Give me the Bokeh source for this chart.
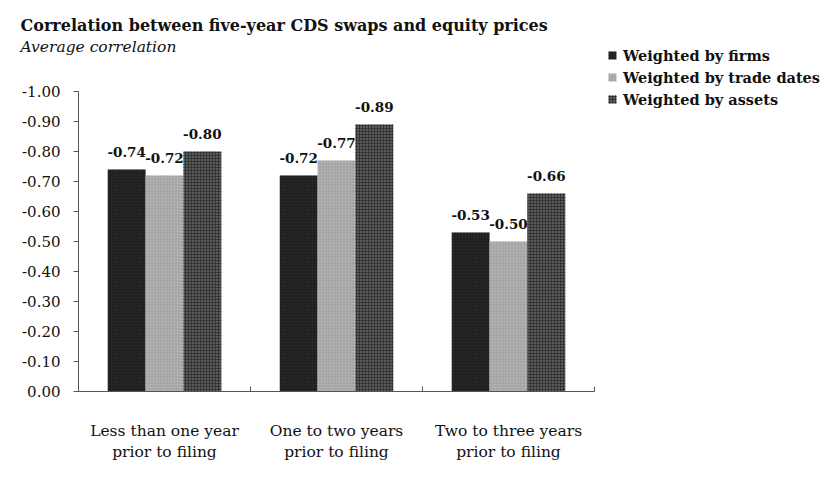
from bokeh.plotting import figure
from bokeh.models import (Range1d, FixedTicker, NumeralTickFormatter, Title,
                          Legend, LegendItem, ColumnDataSource)
from bokeh.core.properties import value
from bokeh.embed import file_html
from bokeh.resources import INLINE

# ---- data ----
categories = ["Less than one year\nprior to filing",
              "One to two years\nprior to filing",
              "Two to three years\nprior to filing"]
series_names = ["Weighted by firms", "Weighted by trade dates", "Weighted by assets"]
firms = [-0.74, -0.72, -0.53]
trade_dates = [-0.72, -0.77, -0.50]
assets = [-0.80, -0.89, -0.66]
y_ticks = [0.0, -0.1, -0.2, -0.3, -0.4, -0.5, -0.6, -0.7, -0.8, -0.9, -1.0]

title_text = "Correlation between five-year CDS swaps and equity prices"
subtitle_text = "Average correlation"

FONT = "DejaVu Serif"
colors = ["#262626", "#b0b0b0", "#5a5a5a"]
hatch_colors = ["#0d0d0d", "#888888", "#2a2a2a"]
hatches = [".", ".", "+"]
bw = 0.22

p = figure(frame_width=516, frame_height=300, output_backend="svg", toolbar_location=None,
           x_range=Range1d(0, len(categories)), y_range=Range1d(0, -1.0),
           min_border_left=78, min_border_right=230, min_border_top=91,
           min_border_bottom=92, background_fill_color="white",
           border_fill_color="white")
p.outline_line_color = None
p.grid.visible = False

# ---- bars ----
renderers = []
for j, vals in enumerate([firms, trade_dates, assets]):
    xs = [i + 0.5 + (j - 1) * bw for i in range(len(categories))]
    src = ColumnDataSource(dict(x=xs, top=vals, lab=[f"{v:.2f}" for v in vals]))
    r = p.vbar(x="x", top="top", bottom=0, width=bw, source=src,
               fill_color=colors[j], line_color=None,
               hatch_pattern=hatches[j], hatch_color=hatch_colors[j],
               hatch_scale=3, hatch_weight=1, hatch_alpha=0.7)
    renderers.append(r)
    p.text(x="x", y="top", text="lab", source=src, text_align="center",
           text_baseline="middle", y_offset=-18, text_font=value(FONT),
           text_font_style="bold", text_font_size="13.5px", text_color="#111111")

# ---- axes ----
xax = p.xaxis[0]
xax.ticker = FixedTicker(ticks=[i + 0.5 for i in range(len(categories))],
                         minor_ticks=list(range(len(categories) + 1)))
xax.major_label_overrides = {i + 0.5: c for i, c in enumerate(categories)}
xax.major_tick_line_color = None
xax.minor_tick_in = 5
xax.minor_tick_out = 0
xax.minor_tick_line_color = "#555555"
xax.axis_line_color = "#555555"
xax.major_label_standoff = 24
xax.major_label_text_font = FONT
xax.major_label_text_font_size = "15.5px"
xax.major_label_text_color = "#111111"

yax = p.yaxis[0]
yax.ticker = FixedTicker(ticks=y_ticks)
yax.formatter = NumeralTickFormatter(format="0.00")
yax.minor_tick_line_color = None
yax.major_tick_in = 0
yax.major_tick_out = 5
yax.major_tick_line_color = "#555555"
yax.axis_line_color = "#555555"
yax.major_label_standoff = 13
yax.major_label_text_font = FONT
yax.major_label_text_font_size = "15px"
yax.major_label_text_color = "#111111"

# ---- title / subtitle (first added = nearest to the frame) ----
p.add_layout(Title(text=" ", align="left", offset=0, standoff=32,
                   text_font=FONT, text_font_size="1px"), "above")
p.add_layout(Title(text=subtitle_text, align="left", offset=-58, standoff=2,
                   text_font=FONT, text_font_style="italic",
                   text_font_size="15.5px", text_color="#111111"), "above")
p.add_layout(Title(text=title_text, align="left", offset=-58, standoff=0,
                   text_font=FONT, text_font_style="bold",
                   text_font_size="16px", text_color="#111111"), "above")

# ---- legend ----
legend = Legend(items=[LegendItem(label=n, renderers=[r]) for n, r in zip(series_names, renderers)],
                location=(13, 281), orientation="vertical",
                glyph_width=10, glyph_height=10, label_standoff=6,
                label_height=22, spacing=0, padding=0, margin=0,
                label_text_font=FONT, label_text_font_style="bold",
                label_text_font_size="14.5px", label_text_color="#111111",
                border_line_color=None, background_fill_alpha=0)
p.add_layout(legend, "right")

open("out.html", "w").write(file_html(p, INLINE))
